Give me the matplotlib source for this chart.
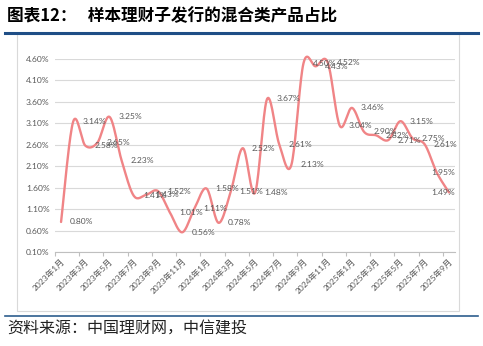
import numpy as np
import matplotlib
matplotlib.use("Agg")
import matplotlib.pyplot as plt

## data
months = ["2023年%d月" % m for m in range(1, 13)] + \
         ["2024年%d月" % m for m in range(1, 13)] + \
         ["2025年%d月" % m for m in range(1, 10)]
share = [0.80, 3.14, 2.58, 2.65, 3.25, 2.23, 1.41, 1.43, 1.52, 1.01, 0.56,
         1.11, 1.58, 0.78, 1.51, 2.52, 1.48, 3.67, 2.61, 2.13, 4.50, 4.43,
         4.52, 3.04, 3.46, 2.90, 2.82, 2.71, 3.15, 2.75, 2.61, 1.95, 1.49]
yticks = [0.10, 0.60, 1.10, 1.60, 2.10, 2.60, 3.10, 3.60, 4.10, 4.60]

title = "图表12：   样本理财子发行的混合类产品占比"
source = "资料来源：中国理财网，中信建投"

## fonts
cjk = ["Noto Sans CJK SC", "DejaVu Sans"]
num = ["Lato", "Noto Sans CJK SC", "DejaVu Sans"]
grey = "#595959"
red = "#F08486"
fs = 6.1

W, H = 483, 346
fig = plt.figure(figsize=(W / 100, H / 100), dpi=100)

def px(x, y):
    # pixel coords (top-left origin) -> figure fraction
    return x / W, 1 - y / H

## frame decorations
fig.text(*px(7, 16), title, family=cjk, fontsize=12, fontweight="bold",
         va="center", ha="left", color="#000000")
fig.add_artist(plt.Line2D([5 / W, 478 / W], [1 - 32.5 / H] * 2, color="#1F4E86", lw=2.2))
fig.add_artist(plt.Rectangle(px(17, 311), 442 / W, 277 / H, fill=False,
                             ec="#D9D9D9", lw=0.8))
fig.add_artist(plt.Line2D([5 / W, 478 / W], [1 - 315.5 / H] * 2, color="#2E5E8E", lw=1.2))
fig.text(*px(7, 329), source, family=cjk, fontsize=11.5, va="center",
         ha="left", color="#222222")

## plot area
x0, x1, ytop, ybot = 55, 455, 59, 252
ax = fig.add_axes([x0 / W, 1 - ybot / H, (x1 - x0) / W, (ybot - ytop) / H])
n = len(share)
xs = np.arange(n)
ax.set_xlim(-0.5, n - 0.5)
ax.set_ylim(0.10, 4.60)

# smooth line like excel (catmull-rom through the points)
pts = np.array(share)
P = np.concatenate([[pts[0]], pts, [pts[-1]]])
X = np.concatenate([[xs[0]], xs, [xs[-1]]])
cx, cy = [], []
t = np.linspace(0, 1, 20)[:, None]
for i in range(1, n):
    p0 = np.array([X[i - 1], P[i - 1]]); p1 = np.array([X[i], P[i]])
    p2 = np.array([X[i + 1], P[i + 1]]); p3 = np.array([X[i + 2], P[i + 2]])
    c1 = p1 + (p2 - p0) / 6
    c2 = p2 - (p3 - p1) / 6
    seg = ((1 - t) ** 3) * p1 + 3 * ((1 - t) ** 2) * t * c1 + 3 * (1 - t) * t ** 2 * c2 + t ** 3 * p2
    cx.extend(seg[:, 0]); cy.extend(seg[:, 1])
ax.plot(cx, cy, color=red, lw=1.7, solid_capstyle="round", clip_on=False, zorder=3)

# data labels, right of the point; last two pulled inside the plot
edge_labels = [31, 32]
for i, v in enumerate(share):
    lab = "%.2f%%" % v
    if i in edge_labels:
        ax.annotate(lab, xy=(1.0, v), xycoords=("axes fraction", "data"),
                    ha="right", va="center", fontsize=fs, family=num, color=grey, zorder=4)
    else:
        ax.annotate(lab, xy=(i, v), xytext=(6.5, 0), textcoords="offset points",
                    ha="left", va="center", fontsize=fs, family=num, color=grey, zorder=4)

# axes styling
ax.set_yticks(yticks)
ax.set_yticklabels(["%.2f%%" % y for y in yticks], family=num, fontsize=fs, color=grey)
ax.yaxis.grid(True, color="#D9D9D9", lw=0.8)
ax.set_axisbelow(True)
ax.tick_params(axis="y", length=0, pad=4)
for s in ["top", "right", "left"]:
    ax.spines[s].set_visible(False)
ax.spines["bottom"].set_color("#BFBFBF")
ax.spines["bottom"].set_linewidth(0.8)

ax.set_xticks(np.arange(-0.5, n, 2), minor=False)
ax.set_xticklabels([])
ax.tick_params(axis="x", length=3, color="#BFBFBF", width=0.8)
for i in range(0, n, 2):
    ax.annotate(months[i], xy=(i, 0), xycoords=("data", "axes fraction"),
                xytext=(1.5, -5.5), textcoords="offset points", rotation=45,
                rotation_mode="anchor", ha="right", va="center",
                fontsize=fs, family=num, color=grey)

fig.savefig("out.png", dpi=100)
